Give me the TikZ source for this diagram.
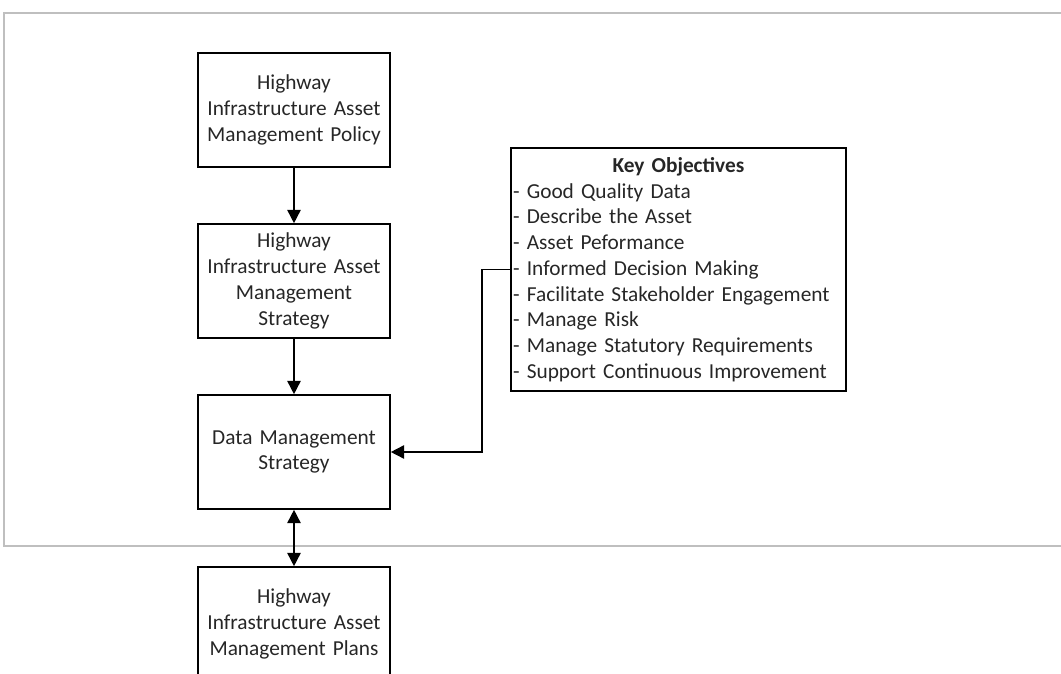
\documentclass[tikz,border=0pt]{standalone}
\usepackage{fontspec}
\setmainfont{Carlito}
\usetikzlibrary{arrows.meta}
\newcommand\objw{248pt}

\begin{document}
\begin{tikzpicture}[x=0.75pt, y=-0.75pt,
  >={Triangle[width=10pt,length=10pt]},
  every node/.style={font=\fontsize{16}{19.3}\selectfont, text=black!85},
  stage/.style={draw, line width=1.2pt, text width=140pt, minimum width=144pt, minimum height=85.5pt, align=center, inner xsep=2pt},
  link/.style={line width=1.2pt}]
  \clip (0,0) rectangle (1061,674);
  % grey frame
  \draw[gray!50, line width=1.6pt] (1070,13) -- (4,13) -- (4,546) -- (1070,546);

  \node[stage] (policy) at (294,110) {Highway\\Infrastructure Asset\\Management Policy};
  \node[stage] (hiams) at (294,281) {Highway\\Infrastructure Asset\\Management\\Strategy};
  \node[stage] (dms) at (294,452) {Data Management\\Strategy};
  \node[stage] (plans) at (294,624) {Highway\\Infrastructure Asset\\Management Plans};
  \node[draw, line width=1.2pt, text width=\objw, minimum width=251.25pt, minimum height=182.25pt, align=left, inner xsep=1.5pt] (objectives) at (678.5,269.5)
    {\makebox[\objw]{\textbf{Key Objectives}}\\
     - Good Quality Data\\
     - Describe the Asset\\
     - Asset Peformance\\
     - Informed Decision Making\\
     - Facilitate Stakeholder Engagement\\
     - Manage Risk\\
     - Manage Statutory Requirements\\
     - Support Continuous Improvement};

  \path[link,->]
  (policy) edge (hiams)
  (hiams) edge (dms)
  ;
  \draw[link,<->] (dms) -- (plans);
  \draw[link,->] (objectives.west) -- ++(-28,0) |- (dms.east);
\end{tikzpicture}
\end{document}
